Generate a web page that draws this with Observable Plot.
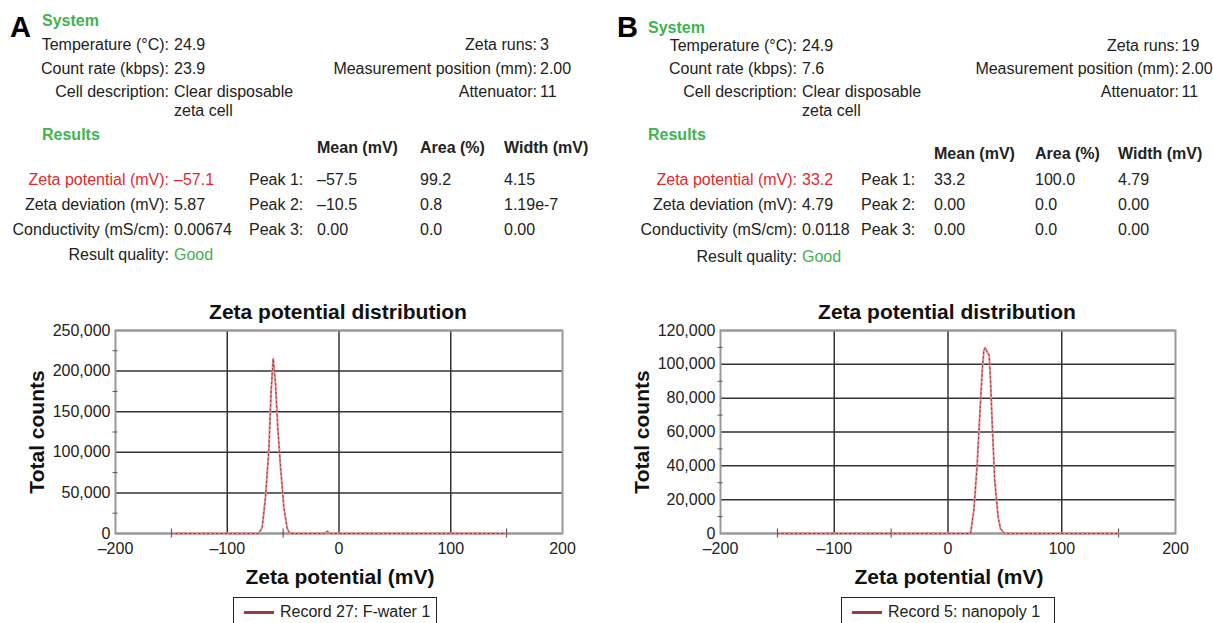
<!DOCTYPE html>
<html>
<head>
<meta charset="utf-8">
<script src="https://cdn.jsdelivr.net/npm/d3@7"></script>
<script src="https://cdn.jsdelivr.net/npm/@observablehq/plot@0.6"></script>
<style>
  html, body { margin: 0; padding: 0; background: #fff; }
  #root { position: relative; width: 1213px; height: 623px; overflow: hidden; font-family: "Liberation Sans", Arial, sans-serif; color: #222; }
  #root div { position: absolute; white-space: nowrap; line-height: 1; }
</style>
</head>
<body>
<div id="root"></div>
<script>
// ---------------- DATA ----------------
const panelLetters = ["A", "B"];
const sectionTitles = ["System", "Results"];
const sysLabels = ["Temperature (°C):", "Count rate (kbps):", "Cell description:"];
const sysValuesA = ["24.9", "23.9", "Clear disposable"];
const sysValuesB = ["24.9", "7.6", "Clear disposable"];
const cellContinuation = "zeta cell";
const sysRightLabels = ["Zeta runs:", "Measurement position (mm):", "Attenuator:"];
const sysRightValuesA = ["3", "2.00", "11"];
const sysRightValuesB = ["19", "2.00", "11"];
const resLabels = ["Zeta potential (mV):", "Zeta deviation (mV):", "Conductivity (mS/cm):", "Result quality:"];
const resValuesA = ["–57.1", "5.87", "0.00674", "Good"];
const resValuesB = ["33.2", "4.79", "0.0118", "Good"];
const peakHeaders = ["Mean (mV)", "Area (%)", "Width (mV)"];
const peakNames = ["Peak 1:", "Peak 2:", "Peak 3:"];
const peaksA = [["–57.5", "99.2", "4.15"], ["–10.5", "0.8", "1.19e-7"], ["0.00", "0.0", "0.00"]];
const peaksB = [["33.2", "100.0", "4.79"], ["0.00", "0.0", "0.00"], ["0.00", "0.0", "0.00"]];

const chartTitle = "Zeta potential distribution";
const xTitle = "Zeta potential (mV)";
const yTitle = "Total counts";
const legendA = "Record 27: F-water 1";
const legendB = "Record 5: nanopoly 1";

// Distribution curves (zeta potential in mV, total counts)
const zetaA = [-150, -71.8, -68.7, -65.8, -62.8, -60.7, -58.9, -56.8, -54.8, -52.3, -49.4, -46.3, -44, -13, -10.5, -8, 150];
const countsA = [0, 0, 7800, 44700, 102200, 176100, 215100, 184700, 130900, 81600, 32400, 5800, 0, 0, 2600, 0, 0];
const zetaB = [-150, 19.8, 22.7, 25.7, 28, 30.1, 31.5, 32.7, 34.5, 36.2, 37.4, 39.1, 41.1, 44.1, 46.2, 49.7, 150];
const countsB = [0, 0, 13600, 41200, 70700, 96300, 108200, 109800, 107200, 105200, 90400, 60900, 31300, 9600, 2800, 0, 0];

// Axis ticks
const xTicks = [-200, -100, 0, 100, 200];
const xGridTicks = [-100, 0, 100];
const xMinorTicks = [-150, -50, 150];
const yTicksA = [0, 50000, 100000, 150000, 200000, 250000];
const yMinorA = [25000, 75000, 125000, 175000, 225000];
const yTicksB = [0, 20000, 40000, 60000, 80000, 100000, 120000];
const yMinorB = [10000, 30000, 50000, 70000, 90000, 110000];

// ---------------- LAYOUT ----------------
const root = document.getElementById("root");
const GREEN = "#3fb34f", RED = "#e8262d", INK = "#222";
const FONT = '"Liberation Sans", Arial, sans-serif';

function txt(x, cy, s, o = {}) {
  const size = o.size || 16;
  const d = document.createElement("div");
  d.textContent = s;
  let tr = "";
  if (o.align === "right") tr = "translateX(-100%)";
  if (o.align === "center") tr = "translateX(-50%)";
  d.style.left = x + "px";
  d.style.top = (cy - 0.49 * size) + "px";
  d.style.fontSize = size + "px";
  d.style.fontWeight = o.weight || "normal";
  d.style.color = o.color || INK;
  if (tr) d.style.transform = tr;
  root.appendChild(d);
  return d;
}

function header(L, sysVals, rightVals, resVals, peaks) {
  txt(L.letterX, L.letterCy, panelLetters[L.i], {size: 29, weight: "bold", color: "#000"});
  txt(L.secX, L.sysCy, sectionTitles[0], {weight: "bold", color: GREEN});
  sysLabels.forEach((s, k) => {
    txt(L.labX, L.sysRows[k], s, {align: "right"});
    txt(L.valX, L.sysRows[k], sysVals[k]);
    txt(L.rlabX, L.sysRows[k], sysRightLabels[k], {align: "right"});
    txt(L.rvalX, L.sysRows[k], rightVals[k]);
  });
  txt(L.valX, L.contCy, cellContinuation);
  txt(L.secX, L.resCy, sectionTitles[1], {weight: "bold", color: GREEN});
  peakHeaders.forEach((h, j) => txt(L.colX[j], L.headCy, h, {weight: "bold"}));
  resLabels.forEach((s, k) => {
    const cy = L.resRows[k];
    const col = k === 0 ? RED : INK;
    txt(L.labX, cy, s, {align: "right", color: col});
    txt(L.valX, cy, resVals[k], {color: k === 0 ? RED : (k === 3 ? GREEN : INK)});
    if (k < 3) {
      txt(L.peakX, cy, peakNames[k]);
      peaks[k].forEach((v, j) => txt(L.colX[j], cy, v));
    }
  });
}

header({i: 0, letterX: 10, letterCy: 27.5, secX: 42, sysCy: 21, labX: 169, valX: 174,
        rlabX: 537, rvalX: 540, sysRows: [45, 69, 92], contCy: 111, resCy: 135, headCy: 148,
        colX: [317, 420, 504], peakX: 249, resRows: [180, 205, 230, 255]},
       sysValuesA, sysRightValuesA, resValuesA, peaksA);
header({i: 1, letterX: 617, letterCy: 27.5, secX: 648, sysCy: 28, labX: 797, valX: 802,
        rlabX: 1179, rvalX: 1181.5, sysRows: [46, 69, 92], contCy: 111, resCy: 135, headCy: 154,
        colX: [934, 1035, 1118], peakX: 861, resRows: [180, 205, 230, 257]},
       sysValuesB, sysRightValuesB, resValuesB, peaksB);

const fmtX = d => d < 0 ? "–" + Math.abs(d) : String(d);
const fmtY = d3.format(",");

function chart(xs, ys, yDomain, yTicks, yMinor, ml, width) {
  const data = xs.map((x, i) => ({x, y: ys[i]}));
  return Plot.plot({
    width, height: 270,
    marginLeft: ml, marginRight: 38, marginTop: 30, marginBottom: 37,
    style: {fontFamily: FONT, fontSize: "16px", color: INK, background: "transparent", overflow: "visible"},
    x: {domain: [-200, 200]},
    y: {domain: yDomain},
    marks: [
      Plot.gridY(yTicks, {stroke: "#333", strokeOpacity: 1, strokeWidth: 1.5}),
      Plot.gridX(xGridTicks, {stroke: "#333", strokeOpacity: 1, strokeWidth: 1.5}),
      Plot.frame({stroke: "#999", strokeWidth: 2}),
      Plot.axisY(yTicks, {tickSize: 0, tickPadding: 5, tickFormat: fmtY, label: null, fill: INK}),
      Plot.axisY(yMinor, {tickSize: 5, dx: 2.5, tickFormat: () => "", label: null, stroke: "#555"}),
      Plot.axisX(xTicks, {tickSize: 0, tickPadding: 9, tickFormat: fmtX, label: null, fill: INK}),
      Plot.axisX(xMinorTicks, {tickSize: 9, dy: -4.5, tickFormat: () => "", label: null, stroke: "#444"}),
      Plot.line(data, {x: "x", y: "y", stroke: "#ec8a8c", strokeWidth: 2}),
      Plot.line(data, {x: "x", y: "y", stroke: "#6e2a30", strokeWidth: 0.8, strokeDasharray: "1.5,3"})
    ]
  });
}

function place(svg, left) {
  const w = document.createElement("div");
  w.style.left = left + "px";
  w.style.top = "300px";
  w.appendChild(svg);
  root.appendChild(w);
}

place(chart(zetaA, countsA, [0, 250000], yTicksA, yMinorA, 115, 600), 0);
place(chart(zetaB, countsB, [0, 120000], yTicksB, yMinorB, 110, 603), 610);

// Chart titles & axis titles
[[338, 35.5], [947, 641]].forEach(([cx, ycx]) => {
  txt(cx, 311, chartTitle, {size: 21, weight: "bold", align: "center", color: "#111"});
  txt(cx + 2, 576, xTitle, {size: 21, weight: "bold", align: "center", color: "#111"});
  const d = txt(ycx, 432, yTitle, {size: 21, weight: "bold", color: "#111"});
  d.style.top = "432px";
  d.style.transform = "translate(-50%, -50%) rotate(-90deg)";
});

// Legends
function legend(left, width, label) {
  const box = document.createElement("div");
  box.style.cssText = `left:${left}px;top:597px;width:${width}px;height:40px;border:1px solid #222;box-sizing:border-box;background:#fff;`;
  const sw = document.createElement("div");
  sw.style.cssText = "left:10px;top:12.5px;width:30px;height:3px;background:#9a3a48;";
  const t = document.createElement("div");
  t.textContent = label;
  t.style.cssText = "left:46px;top:6.2px;font-size:16px;color:#222;";
  box.appendChild(sw); box.appendChild(t);
  root.appendChild(box);
}
legend(233, 204, legendA);
legend(841, 214, legendB);
</script>
</body>
</html>
